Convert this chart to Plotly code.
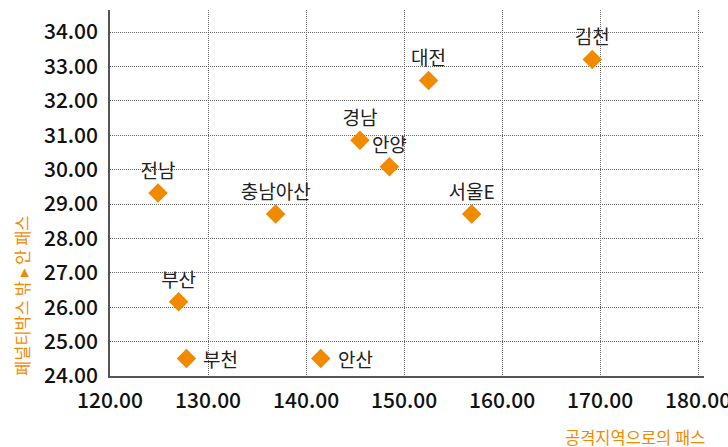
import plotly.graph_objects as go

teams = ["김천", "대전", "경남", "안양", "서울E", "충남아산", "전남", "부산", "부천", "안산"]
attack_passes = [169.2, 152.5, 145.5, 148.5, 156.9, 136.9, 124.9, 127.0, 127.8, 141.5]
box_passes = [33.20, 32.59, 30.85, 30.08, 28.71, 28.71, 29.32, 26.16, 24.51, 24.51]
label_right = [False, False, False, False, False, False, False, False, True, True]

x_ticks = [120, 130, 140, 150, 160, 170, 180]
y_ticks = [24, 25, 26, 27, 28, 29, 30, 31, 32, 33, 34]

x_title = "공격지역으로의 패스"
y_title = "페널티박스 밖 ▸ 안 패스"

ORANGE = "#F28A00"
FONT = "Noto Sans CJK KR"
LABEL_FONT = dict(family=FONT, size=19, color="#222222")

top_text = [t if not r else "" for t, r in zip(teams, label_right)]

fig = go.Figure(go.Scatter(
    x=attack_passes, y=box_passes, mode="markers+text",
    text=top_text, textposition="top center",
    textfont=LABEL_FONT,
    marker=dict(symbol="diamond", size=15, color=ORANGE, line=dict(width=0)),
    cliponaxis=False, hoverinfo="skip"))

annotations = [
    dict(text=x_title, xref="paper", yref="paper", x=1.005, y=-0.167,
         xanchor="right", yanchor="middle", showarrow=False,
         font=dict(family=FONT, size=16.5, color=ORANGE)),
    dict(text=y_title, xref="paper", yref="paper", x=-0.148, y=-0.005,
         xanchor="center", yanchor="bottom", textangle=-90, showarrow=False,
         font=dict(family=FONT, size=16.5, color=ORANGE)),
]
for t, xv, yv, r in zip(teams, attack_passes, box_passes, label_right):
    if r:
        annotations.append(dict(text=t, x=xv, y=yv, xref="x", yref="y",
                                xanchor="left", yanchor="middle", xshift=15,
                                showarrow=False, font=LABEL_FONT))

axis_common = dict(
    showgrid=True, gridcolor="#666666", griddash="1px,1px", gridwidth=1,
    showline=True, linecolor="#555555", linewidth=1.5,
    zeroline=False, ticks="", automargin=False, ticklabeloverflow="allow",
    tickfont=dict(family=FONT, size=21, color="#111111", weight=500),
)

fig.update_layout(
    width=728, height=447,
    margin=dict(l=110, r=24, t=10, b=71),
    paper_bgcolor="white", plot_bgcolor="white",
    showlegend=False,
    font=dict(family=FONT, color="#111111"),
    xaxis=dict(range=[120, 180.6], tickvals=x_ticks,
               ticktext=[f"{v:.2f}" for v in x_ticks],
               ticklabelstandoff=5, **axis_common),
    yaxis=dict(range=[24, 34.64], tickvals=y_ticks,
               ticktext=[f"{v:.2f}" for v in y_ticks],
               ticklabelstandoff=6, **axis_common),
    annotations=annotations,
)

fig.write_html("out.html", config={"displayModeBar": False},
               post_script="document.body.style.margin='0';document.body.style.padding='0';")
